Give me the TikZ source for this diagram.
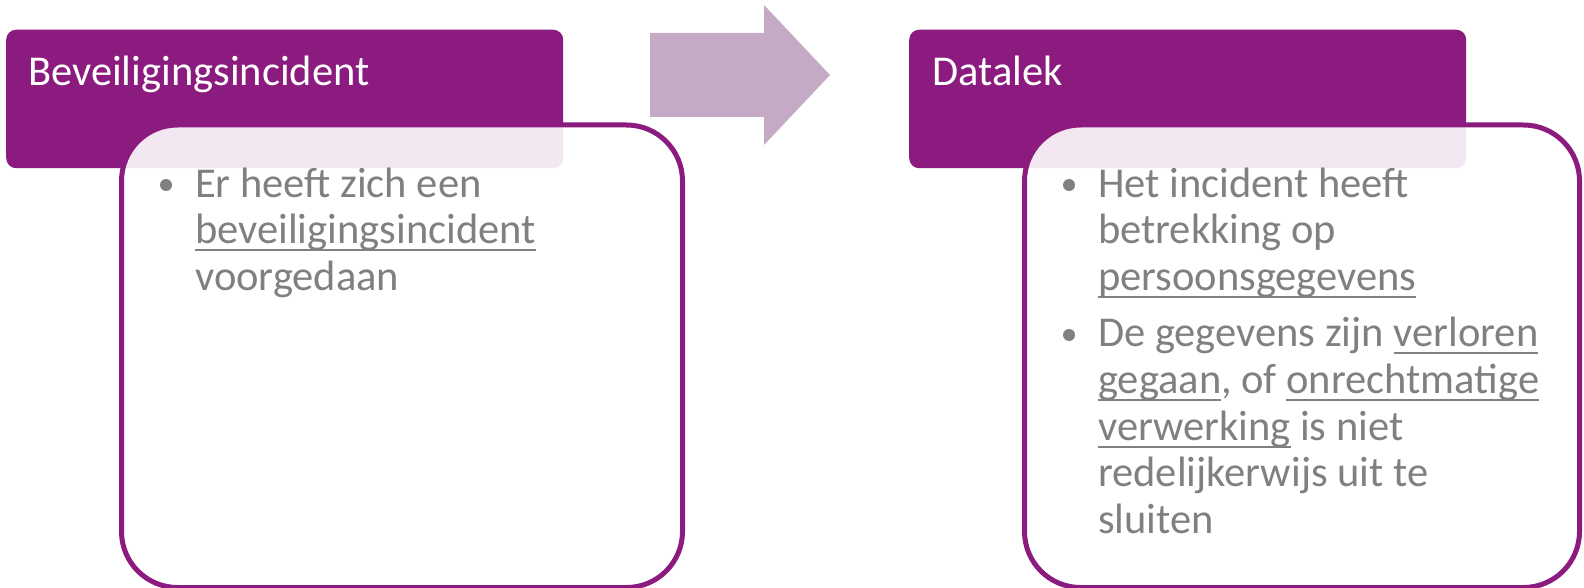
\documentclass[tikz,border=0pt]{standalone}
\usepackage{fontspec}
\setmainfont{Carlito}
\definecolor{hdrc}{RGB}{139,27,126}
\definecolor{arrc}{RGB}{196,170,196}
\definecolor{txtc}{RGB}{128,128,128}
\newcommand{\ulin}[1]{\setbox0=\hbox{#1}\rlap{\rule[-7.5pt]{\wd0}{2pt}}\box0\relax}
\tikzset{
 hdr/.style={fill=hdrc, draw=none, rounded corners=10, anchor=north west, inner sep=0},
 bodybox/.style={draw=hdrc, line width=5, fill=white, fill opacity=0.9, rounded corners=56, anchor=north west, inner sep=0},
 htext/.style={anchor=base west, text=white, font=\fontsize{42.5}{46.6}\selectfont, inner sep=0},
 btext/.style={anchor=base west, text=txtc, font=\fontsize{42.5}{46.6}\selectfont, inner sep=0},
 bul/.style={circle, fill=txtc, inner sep=0, minimum size=12},
 arrowshape/.style={fill=arrc, draw=none}
}
\begin{document}
\begin{tikzpicture}[x=1pt,y=-1pt]
\useasboundingbox (0,0) rectangle (1584,588);
% arrow
\fill[arrowshape] (650,33) -- (764,33) -- (764,5) -- (830,75) -- (764,145) -- (764,117) -- (650,117) -- cycle;
% headers
\node[hdr, minimum width=557, minimum height=138.5] (h1) at (6,29.5) {};
\node[hdr, minimum width=557, minimum height=138.5] (h2) at (909,29.5) {};
% body boxes
\node[bodybox, minimum width=561, minimum height=462.5] (b1) at (119,122.5) {};
\node[bodybox, minimum width=555, minimum height=462.5] (b2) at (1022,122.5) {};
% header texts
\node[htext] (t1) at (28,86) {Beveiligingsincident};
\node[htext] (t2) at (932,86) {Datalek};
% left body
\node[bul] (bu1) at (166,185) {};
\node[btext] (l1) at (195,197) {Er heeft zich een};
\node[btext] (l2) at (195,243.6) {\ulin{beveiligingsincident}};
\node[btext] (l3) at (195,290.2) {voorgedaan};
% right body
\node[bul] (bu2) at (1069,185) {};
\node[btext] (r1) at (1098,197) {Het incident heeft};
\node[btext] (r2) at (1098,243.6) {betrekking op};
\node[btext] (r3) at (1098,290.2) {\ulin{persoonsgegevens}};
\node[bul] (bu3) at (1069,335) {};
\node[btext] (r4) at (1098,346.9) {De gegevens zijn \ulin{verloren}};
\node[btext] (r5) at (1098,393.5) {\ulin{gegaan}, of \ulin{onrechtmatige}};
\node[btext] (r6) at (1098,440.1) {\ulin{verwerking} is niet};
\node[btext] (r7) at (1098,486.7) {redelijkerwijs uit te};
\node[btext] (r8) at (1098,533.3) {sluiten};
\end{tikzpicture}
\end{document}
